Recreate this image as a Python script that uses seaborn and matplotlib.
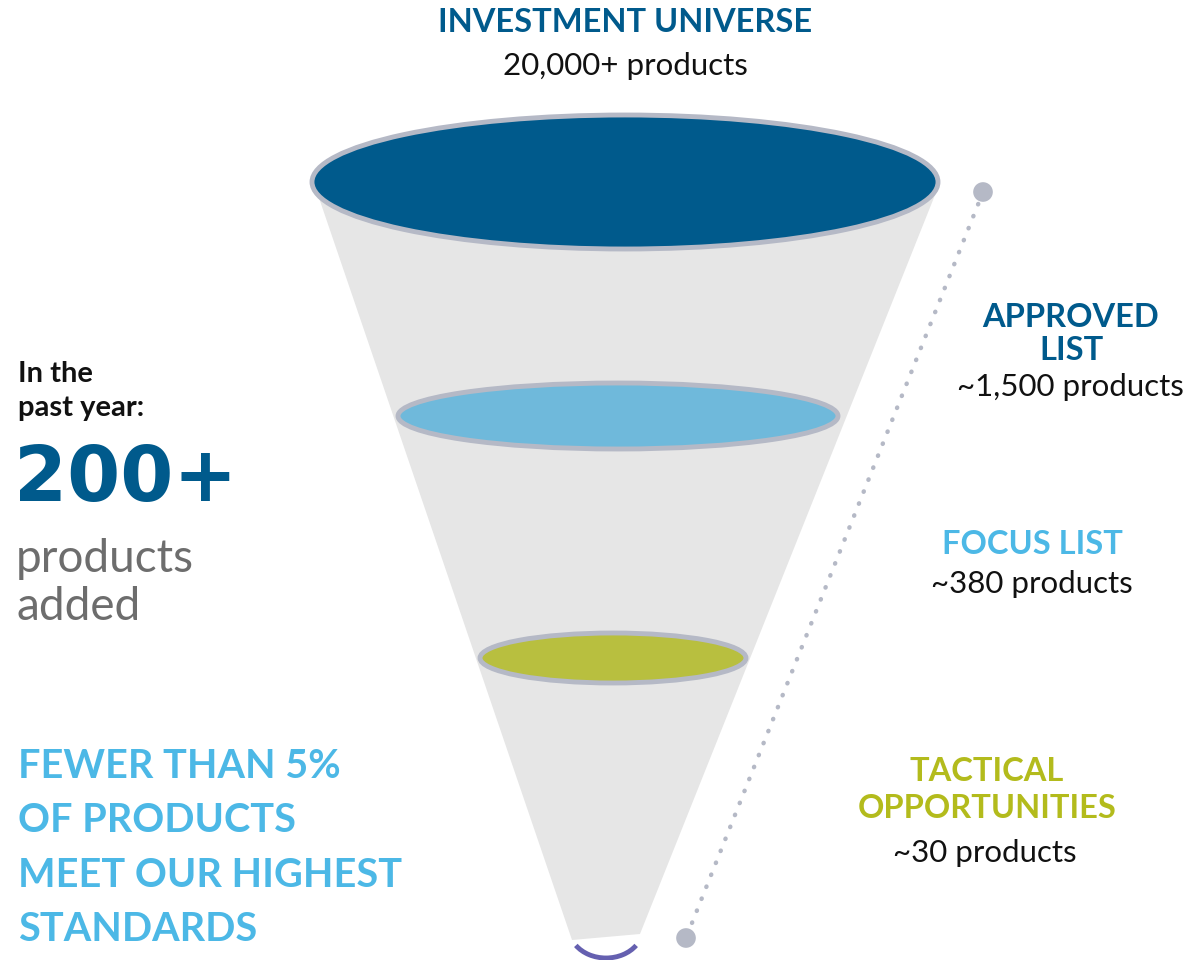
import matplotlib
matplotlib.use("Agg")
import matplotlib.pyplot as plt
import seaborn as sns
from matplotlib.patches import Ellipse, Polygon, Arc

# funnel stages (top to bottom)
stage_names = ["INVESTMENT UNIVERSE", "APPROVED\nLIST", "FOCUS LIST", "TACTICAL\nOPPORTUNITIES"]
stage_counts = ["20,000+ products", "~1,500 products", "~380 products", "~30 products"]
stage_colors = ["#005a8c", "#005a8c", "#4cb8e6", "#b3bb1c"]
disc_colors = ["#005a8c", "#6fb9db", "#b8bf3f"]

# disc geometry in pixel space (center x, center y, width, height)
disc_cx = [625, 618, 613]
disc_cy = [182, 416, 658]
disc_w = [626, 440, 266]
disc_h = [134, 66, 50]

# funnel body outline
funnel_x = [318, 935, 640, 572]
funnel_y = [195, 195, 934, 940]

# left side call-outs
intro_text = "In the\npast year:"
added_count = "200+"
added_text = "products\nadded"
standards_text = "FEWER THAN 5%\nOF PRODUCTS\nMEET OUR HIGHEST\nSTANDARDS"

sns.set_theme(style="white")
plt.rcParams["font.family"] = ["Lato", "DejaVu Sans"]

fig = plt.figure(figsize=(11.88, 9.6), dpi=100)
ax = fig.add_axes([0, 0, 1, 1])
ax.set_xlim(0, 1188)
ax.set_ylim(960, 0)
ax.axis("off")

ring = "#b5b9c6"

# funnel body
ax.add_patch(Polygon(list(zip(funnel_x, funnel_y)), closed=True,
                     facecolor="#e6e6e6", edgecolor="none", zorder=1))

# discs
for cx, cy, w, h, c in zip(disc_cx, disc_cy, disc_w, disc_h, disc_colors):
    ax.add_patch(Ellipse((cx, cy), w, h, facecolor=c, edgecolor=ring,
                         linewidth=3.5, zorder=3))

# purple cup at the bottom
ax.add_patch(Arc((606, 928), 74, 60, theta1=30, theta2=150,
                 color="#6560b0", linewidth=3.5, zorder=3))

# dotted leader line with end points
ax.plot([983, 686], [192, 938], color=ring, linestyle=(0, (0.1, 2.8)),
        linewidth=3.2, dash_capstyle="round", zorder=2)
ax.scatter([983, 686], [192, 938], s=200, color=ring, edgecolor="none", zorder=4)

# stage labels
label_kw = dict(ha="center", va="center", fontsize=23.5, fontweight="bold")
count_kw = dict(ha="center", va="center", fontsize=22.5, color="#111111")

ax.text(625, 22, stage_names[0], color=stage_colors[0], **label_kw)
ax.text(625, 66, stage_counts[0], **count_kw)

ax.text(1071, 334, stage_names[1], color=stage_colors[1], linespacing=1.18, **label_kw)
ax.text(1070, 387, stage_counts[1], **count_kw)

ax.text(1032, 544, stage_names[2], color=stage_colors[2], **label_kw)
ax.text(1032, 584, stage_counts[2], **count_kw)

ax.text(987, 790, stage_names[3], color=stage_colors[3], linespacing=1.35, **label_kw)
ax.text(985, 853, stage_counts[3], **count_kw)

# left call-outs
ax.text(18, 391, intro_text, ha="left", va="center", fontsize=21,
        fontweight="bold", color="#111111", linespacing=1.38)
ax.text(14, 480, added_count, ha="left", va="center", fontsize=55,
        fontweight="bold", color="#005a8c", family="DejaVu Sans")
ax.text(16, 583, added_text, ha="left", va="center", fontsize=33,
        color="#6d6d6d", linespacing=1.18)
ax.text(18, 848, standards_text, ha="left", va="center", fontsize=28.5,
        fontweight="bold", color="#4cb8e6", linespacing=1.58)

fig.savefig("out.png", dpi=100)
